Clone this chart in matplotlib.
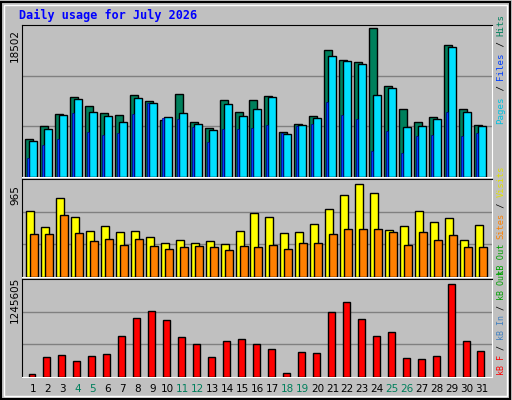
import matplotlib
matplotlib.use("Agg")
import matplotlib.pyplot as plt
import numpy as np

days = np.arange(1, 32)
weekend = [4, 5, 11, 12, 18, 19, 25, 26]

# values
hits = [4660, 6270, 7760, 9980, 8870, 7890, 7640, 10230, 9490, 7020, 10350, 6780,
        6040, 9610, 8010, 9610, 10100, 5540, 6530, 7520, 15800, 14550, 14300, 18502,
        11330, 8500, 6780, 7390, 16420, 8500, 6410]
files = [4410, 5920, 7640, 9730, 8130, 7520, 6780, 9860, 9240, 7390, 7890, 6530,
         5790, 9110, 7520, 8500, 9980, 5290, 6410, 7270, 15050, 14430, 14050, 10230,
         11080, 6160, 6290, 7140, 16160, 8010, 6290]
pages = [2340, 3960, 4690, 7890, 5550, 5180, 5420, 7760, 9240, 7270, 7140, 6160,
         4320, 5920, 5920, 6040, 6410, 5420, 6290, 6530, 9360, 7640, 7140, 3200,
         5670, 3000, 5050, 5180, 8130, 5050, 5420]
visits = [660, 500, 790, 600, 460, 510, 450, 460, 400, 340, 370, 340, 360, 330, 460,
          640, 600, 440, 450, 530, 680, 820, 930, 840, 470, 510, 660, 550, 590, 370, 520]
sites = [430, 430, 620, 440, 360, 380, 320, 380, 310, 280, 300, 310, 300, 270, 310,
         300, 320, 280, 340, 340, 430, 480, 480, 480, 450, 320, 450, 370, 420, 300, 300]
kb_in = [40000, 270000, 298000, 217000, 284000, 311000, 541000, 785000, 880000,
         758000, 528000, 447000, 271000, 474000, 501000, 447000, 379000, 54000,
         338000, 325000, 866000, 1002000, 772000, 541000, 596000, 257000, 244000,
         284000, 1245605, 487000, 352000]
day_labels = [str(d) for d in days]

BG = "#C0C0C0"
W, H = 512, 400
fig = plt.figure(figsize=(W / 100, H / 100), dpi=100, facecolor=BG)
mono = "DejaVu Sans Mono"

def ax_px(l, t, r, b):
    ax = fig.add_axes([l / W, 1 - b / H, (r - l) / W, (b - t) / H])
    ax.set_facecolor(BG)
    ax.set_xlim(0.265, 31.67)
    for s in ax.spines.values():
        s.set_color("black")
    ax.spines["bottom"].set_color("white")
    ax.spines["right"].set_color("white")
    ax.set_xticks([])
    ax.set_yticks([])
    return ax

u = 1 / 14.97
kw = dict(edgecolor="black", linewidth=1, zorder=3)

ax1 = ax_px(22, 25, 492, 177)
ax1.set_ylim(0, 18502 * 1.02)
for g in (1 / 3, 2 / 3):
    ax1.axhline(18502 * 1.02 * g, color="#808080", lw=1, zorder=1)
ax1.bar(days - 4 * u, hits, width=8 * u, color="#00805C", **kw)
ax1.bar(days, files, width=8 * u, color="#00E0FF", **kw)
ax1.bar(days - 5 * u, pages, width=2 * u, color="#0040FF", edgecolor="#000080", lw=0.5, zorder=4)

ax2 = ax_px(22, 179, 492, 277)
ax2.set_ylim(0, 965 * 1.02)
for g in (1 / 3, 2 / 3):
    ax2.axhline(965 * 1.02 * g, color="#808080", lw=1, zorder=1)
ax2.bar(days - 3 * u, visits, width=8 * u, color="#FFFF00", **kw)
ax2.bar(days + 1 * u, sites, width=8 * u, color="#FF8000", **kw)

ax3 = ax_px(22, 279, 492, 377)
ax3.set_ylim(0, 1245605 * 1.05)
for g in (1 / 3, 2 / 3):
    ax3.axhline(1245605 * 1.05 * g, color="#808080", lw=1, zorder=1)
ax3.bar(days - 1 * u, kb_in, width=7 * u, color="#FF0000", **kw)

for d, lab in zip(days, day_labels):
    fig.text((33 + (d - 1) * 14.97) / W, 1 - 389 / H, lab, ha="center", va="center",
             fontsize=7.5, color="#00805C" if d in weekend else "black")

fig.text(19 / W, 1 - 15 / H, "Daily usage for July 2026", color="#0000FF",
         fontsize=8.5, fontweight="bold", family=mono, va="center")
for y, lab in [(45, "18502"), (195, "965"), (300, "1245605")]:
    fig.text(15 / W, 1 - y / H, lab, rotation=90, fontsize=7.5, ha="center", va="center")

def side(y_bottom, parts, fs):
    step = fs * 0.602 * 100 / 72
    y = y_bottom
    for txt, col in parts:
        fig.text(501 / W, 1 - y / H, txt, rotation=90, color=col, fontsize=fs,
                 family=mono, ha="center", va="bottom")
        y -= len(txt) * step

side(124, [("Pages", "#00C0E0"), (" / ", "black"), ("Files", "#0040FF"),
           (" / ", "black"), ("Hits", "#00805C")], 6.6)
side(275, [("kB Out", "#00A000"), (" ", "black"), ("Sites", "#FF8000"),
           (" / ", "black"), ("Visits", "#E0E000")], 6.2)
side(375, [("kB F", "#FF0000"), (" / ", "black"), ("kB In", "#4080C0"),
           (" / ", "black"), ("kB Out", "#00A000")], 6.0)

# outer frame
fig.add_artist(plt.Rectangle((1 / W, 1 / H), (W - 3) / W, (H - 3) / H, fill=False,
                             edgecolor="black", lw=1.5, transform=fig.transFigure))
fig.add_artist(plt.Rectangle((4 / W, 4 / H), (W - 9) / W, (H - 9) / H, fill=False,
                             edgecolor="white", lw=1, transform=fig.transFigure))

fig.savefig("out.png", dpi=100, facecolor=BG)
